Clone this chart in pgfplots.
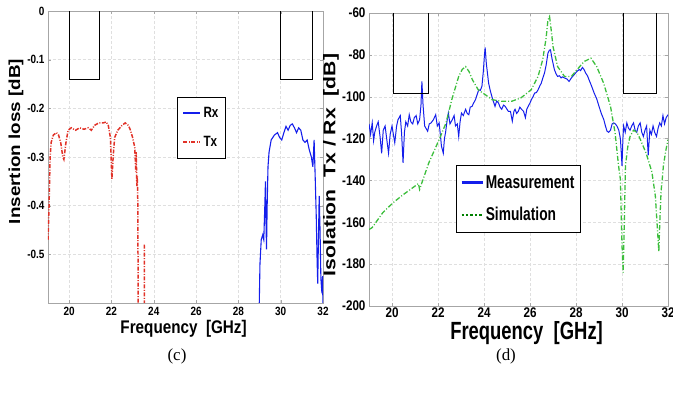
\documentclass[border=0pt]{standalone}
\usepackage{fontspec}
\setmainfont{Liberation Sans}
\newfontfamily\seriffont{Liberation Serif}
\usepackage{graphicx}
\usepackage{pgfplots}
\pgfplotsset{compat=1.18}
\definecolor{rxblue}{RGB}{20,30,235}
\definecolor{txred}{RGB}{225,50,40}
\definecolor{simgreen}{RGB}{60,190,60}
\begin{document}
\begin{tikzpicture}
\useasboundingbox (0bp,0bp) rectangle (673bp,399bp);
% ---------------- (c) ----------------
\begin{axis}[
 at={(48bp,96bp)}, anchor=south west, scale only axis, width=275bp, height=292bp,
 xmin=19, xmax=32, ymin=-0.6, ymax=0,
 xtick={20,22,24,26,28,30,32}, xticklabels={20,22,24,26,28,30,32},
 ytick={-0.5,-0.4,-0.3,-0.2,-0.1,0}, yticklabels={-0.5,-0.4,-0.3,-0.2,-0.1,0},
 grid=major, major grid style={gray!25, densely dashed},
 axis line style={gray!70}, tick style={gray!70},
 tick align=inside, major tick length=3bp,
 tick label style={font=\bfseries\fontsize{10}{10}\selectfont, yscale=1.2, black},
 xlabel={\scalebox{1}[1.2]{Frequency\ \ [GHz]}},
 xlabel style={font=\bfseries\fontsize{15.3}{16}\selectfont, inner sep=0pt, at={(axis description cs:0.493,-0.088)}, anchor=center},
 ylabel={\scalebox{1.18}[1]{Insertion loss [dB]}},
 ylabel style={font=\bfseries\fontsize{16}{17}\selectfont, inner sep=0pt, at={(axis description cs:-0.116,0.553)}, anchor=center},
 legend style={at={(rel axis cs:0.469,0.705)}, anchor=north west, draw=black, font=\bfseries\fontsize{11.7}{12}\selectfont, row sep=13bp, inner xsep=5bp, inner ysep=8bp},
 legend cell align=left,
 legend image code/.code={\draw[#1] (0bp,0bp) -- (17bp,0bp);},
]
\addplot[rxblue, line width=1.1pt, legend image post style={line width=2.4pt}] coordinates {
(28.98,-0.62) (29.02,-0.52) (29.08,-0.47) (29.15,-0.46) (29.2,-0.47) (29.25,-0.40) (29.28,-0.35) (29.3,-0.42) (29.33,-0.49) (29.36,-0.40) (29.4,-0.32) (29.45,-0.29) (29.55,-0.265) (29.7,-0.255) (29.85,-0.25) (29.95,-0.26) (30.05,-0.265) (30.15,-0.25) (30.25,-0.237) (30.35,-0.245) (30.45,-0.235) (30.55,-0.232) (30.65,-0.24) (30.75,-0.25) (30.85,-0.24) (30.95,-0.245) (31.05,-0.265) (31.15,-0.27) (31.25,-0.265) (31.35,-0.285) (31.45,-0.30) (31.52,-0.32) (31.58,-0.265) (31.63,-0.34) (31.68,-0.42) (31.72,-0.51) (31.75,-0.56) (31.78,-0.48) (31.82,-0.38) (31.86,-0.45) (31.9,-0.55) (31.95,-0.58) (31.98,-0.545) (32.0,-0.62)};
\addlegendentry{\scalebox{1}[1.28]{Rx}}
\addplot[txred, line width=1.5pt, dash pattern=on 4pt off 1.5pt on 1pt off 1.5pt, legend image post style={line width=2pt}] coordinates {
(19.0,-0.47) (19.05,-0.40) (19.1,-0.30) (19.15,-0.27) (19.25,-0.255) (19.4,-0.25) (19.5,-0.255) (19.6,-0.27) (19.7,-0.30) (19.75,-0.305) (19.85,-0.27) (19.95,-0.245) (20.1,-0.24) (20.3,-0.245) (20.5,-0.24) (20.7,-0.243) (20.9,-0.24) (21.05,-0.245) (21.2,-0.235) (21.4,-0.23) (21.6,-0.23) (21.75,-0.228) (21.85,-0.235) (21.95,-0.26) (22.02,-0.345) (22.08,-0.30) (22.15,-0.26) (22.3,-0.245) (22.5,-0.235) (22.65,-0.23) (22.8,-0.235) (22.9,-0.245) (23.0,-0.26) (23.1,-0.28) (23.15,-0.33) (23.17,-0.29) (23.2,-0.36) (23.22,-0.34) (23.25,-0.40) (23.26,-0.62)};
\addlegendentry{\scalebox{1}[1.28]{Tx}}
\addplot[txred, line width=1.5pt, dash pattern=on 4pt off 1.5pt on 1pt off 1.5pt, forget plot] coordinates {(23.55,-0.48) (23.56,-0.62)};
\addplot[black, line width=0.8pt, forget plot] coordinates {(20,0) (20,-0.141) (21.45,-0.141) (21.45,0)};
\addplot[black, line width=0.8pt, forget plot] coordinates {(30,0) (30,-0.141) (31.5,-0.141) (31.5,0)};
\end{axis}
% ---------------- (d) ----------------
\begin{axis}[
 at={(369bp,93bp)}, anchor=south west, scale only axis, width=299bp, height=293bp,
 xmin=19, xmax=32, ymin=-200, ymax=-60,
 xtick={20,22,24,26,28,30,32}, xticklabels={20,22,24,26,28,30,32},
 ytick={-200,-180,-160,-140,-120,-100,-80,-60}, yticklabels={-200,-180,-160,-140,-120,-100,-80,-60},
 grid=major, major grid style={gray!25, densely dashed},
 axis line style={gray!70}, tick style={gray!70},
 tick align=inside, major tick length=3bp,
 tick label style={font=\bfseries\fontsize{11.7}{12}\selectfont, yscale=1.2, black},
 xticklabel style={inner sep=1pt},
 xlabel={\scalebox{1}[1.35]{Frequency\ \ [GHz]}},
 xlabel style={font=\bfseries\fontsize{18.5}{19}\selectfont, inner sep=0pt, at={(axis description cs:0.527,-0.092)}, anchor=center},
 ylabel={\scalebox{1.25}[1]{Isolation\ \ Tx / Rx\ \ [dB]}},
 ylabel style={font=\bfseries\fontsize{17}{18}\selectfont, inner sep=0pt, at={(axis description cs:-0.127,0.481)}, anchor=center},
 legend style={at={(rel axis cs:0.291,0.481)}, anchor=north west, draw=black, font=\bfseries\fontsize{13.8}{14}\selectfont, row sep=14bp, inner xsep=4bp, inner ysep=8bp},
 legend cell align=left,
 legend image code/.code={\draw[#1] (0bp,0bp) -- (21bp,0bp);},
]
\addplot[rxblue, line width=1pt, legend image post style={line width=2.6pt}] coordinates {
(19.0,-113) (19.07,-118) (19.14,-112.5) (19.2,-121) (19.25,-117) (19.33,-114) (19.4,-112) (19.48,-119) (19.55,-127) (19.62,-116) (19.7,-114) (19.78,-121) (19.85,-127) (19.92,-118) (20.0,-114) (20.06,-118) (20.12,-122) (20.2,-114) (20.26,-111) (20.36,-109) (20.42,-118) (20.48,-131.6) (20.54,-117) (20.6,-112) (20.68,-114) (20.75,-108.6) (20.82,-112) (20.9,-113) (20.97,-110) (21.05,-109) (21.12,-113) (21.2,-111) (21.26,-104) (21.3,-92.7) (21.35,-104) (21.42,-114) (21.55,-116.5) (21.62,-113) (21.7,-112.5) (21.8,-111) (21.9,-108.6) (21.97,-114) (22.05,-112.5) (22.1,-118) (22.15,-123.6) (22.23,-127) (22.28,-120) (22.33,-117) (22.4,-111) (22.45,-107.8) (22.52,-113) (22.62,-111) (22.7,-109) (22.76,-114) (22.84,-113) (22.9,-119) (22.96,-112) (23.02,-107.8) (23.1,-109) (23.2,-106) (23.27,-108) (23.34,-108.6) (23.4,-105) (23.48,-104.6) (23.55,-103) (23.63,-101.4) (23.7,-99) (23.77,-96.7) (23.84,-97) (23.91,-95) (23.97,-88) (24.02,-80) (24.05,-76.5) (24.1,-84) (24.2,-93.5) (24.27,-97) (24.34,-99.8) (24.4,-102) (24.48,-104.6) (24.55,-102) (24.63,-103) (24.7,-105) (24.77,-106) (24.85,-104) (24.92,-104.6) (25.0,-106) (25.06,-107) (25.15,-107) (25.23,-111.7) (25.3,-107) (25.35,-106) (25.42,-108) (25.49,-107) (25.56,-105) (25.63,-106) (25.72,-107) (25.8,-110) (25.86,-106) (25.92,-104.6) (26.0,-103) (26.06,-101.4) (26.13,-100) (26.2,-98.3) (26.28,-98) (26.35,-96.7) (26.42,-95) (26.49,-93.5) (26.56,-91) (26.63,-88.7) (26.7,-85) (26.78,-79.2) (26.84,-77.8) (26.89,-77.6) (26.96,-82) (27.06,-87) (27.13,-89) (27.2,-90.3) (27.28,-90) (27.35,-91) (27.42,-90.5) (27.49,-91) (27.6,-91.5) (27.7,-92.7) (27.8,-91) (27.92,-89.5) (28.03,-88) (28.14,-87) (28.2,-87.5) (28.28,-86) (28.35,-87) (28.42,-88.7) (28.5,-90) (28.57,-92) (28.68,-95) (28.78,-98) (28.9,-101) (29.0,-104.6) (29.1,-108) (29.21,-111) (29.28,-114) (29.35,-116.5) (29.42,-117) (29.5,-116) (29.57,-113) (29.64,-112.5) (29.71,-113) (29.78,-114) (29.86,-116) (29.93,-120) (29.97,-127) (30.0,-133) (30.04,-120) (30.07,-114) (30.14,-117) (30.21,-112.5) (30.28,-115) (30.35,-116) (30.42,-114) (30.5,-112.5) (30.57,-116) (30.64,-117) (30.71,-114) (30.79,-112.5) (30.86,-117) (30.93,-119) (31.0,-116) (31.07,-114) (31.14,-128) (31.21,-116) (31.28,-118) (31.35,-114) (31.42,-117) (31.5,-119) (31.57,-115) (31.64,-112.5) (31.71,-114) (31.78,-109) (31.85,-113) (31.92,-110) (32.0,-108.6)};
\addlegendentry{\scalebox{1}[1.35]{Measurement}}
\addplot[simgreen, line width=1.3pt, dash pattern=on 5pt off 2pt on 1pt off 2pt, legend image post style={green!50!black, dash pattern=on 2.5pt off 2pt, line width=2.2pt}] coordinates {
(19.0,-163.5) (19.14,-162.5) (19.6,-155.4) (20.05,-150.6) (20.5,-146.7) (21.0,-142.7) (21.15,-141.5) (21.2,-144.3) (21.35,-139.5) (21.6,-131.6) (22.05,-120.5) (22.35,-112.5) (22.6,-101.4) (22.9,-90.3) (23.05,-87) (23.2,-85.6) (23.35,-88) (23.5,-92) (23.75,-96.7) (24.05,-99) (24.35,-101.4) (24.75,-102.2) (25.2,-102.2) (25.6,-100.6) (26.05,-96.7) (26.35,-90.3) (26.55,-82.4) (26.7,-72) (26.78,-63.3) (26.85,-61.7) (26.92,-68) (27.0,-76) (27.2,-85.6) (27.5,-90.3) (27.8,-90.3) (28.05,-87) (28.35,-83.2) (28.65,-81.6) (28.9,-85.6) (29.2,-93.5) (29.5,-104.6) (29.7,-117.3) (29.85,-133) (29.93,-139.5) (30.0,-171) (30.05,-184) (30.1,-160) (30.15,-133) (30.25,-124) (30.35,-119) (30.5,-116) (30.65,-117) (30.8,-120.5) (31.05,-127) (31.3,-136) (31.45,-147.5) (31.55,-165) (31.6,-174) (31.65,-158) (31.7,-145) (31.75,-139.5) (31.8,-133) (31.9,-126) (32.0,-120.5)};
\addlegendentry{\scalebox{1}[1.35]{Simulation}}
\addplot[black, line width=0.8pt, forget plot] coordinates {(20.05,-60) (20.05,-98.6) (21.6,-98.6) (21.6,-60)};
\addplot[black, line width=0.8pt, forget plot] coordinates {(30.05,-60) (30.05,-98.6) (31.5,-98.6) (31.5,-60)};
\end{axis}
\node[font=\seriffont\fontsize{17}{17}\selectfont] at (177bp,43bp) {(c)};
\node[font=\seriffont\fontsize{17}{17}\selectfont] at (506bp,43bp) {(d)};
\end{tikzpicture}
\end{document}
